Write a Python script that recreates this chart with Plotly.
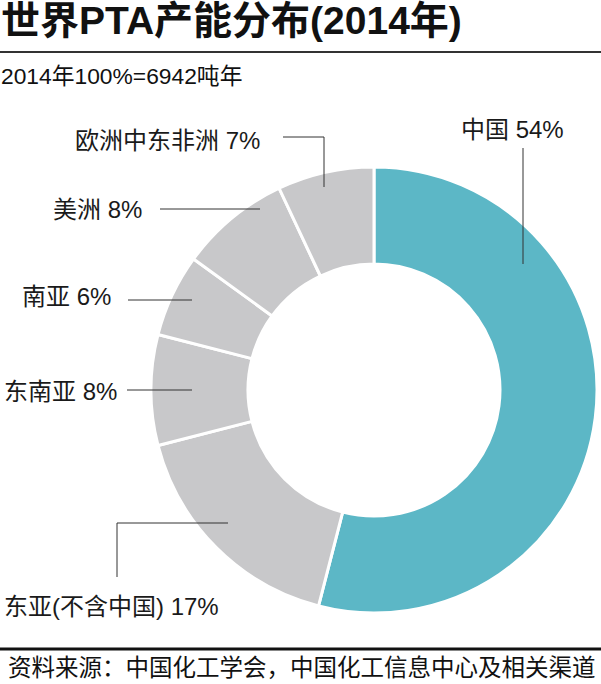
import plotly.graph_objects as go

# data
regions = ['中国', '东亚(不含中国)', '东南亚', '南亚', '美洲', '欧洲中东非洲']
shares = [54, 17, 8, 6, 8, 7]
slice_colors = ['#5cb7c6', '#c8c8ca', '#c8c8ca', '#c8c8ca', '#c8c8ca', '#c8c8ca']

title = '世界PTA产能分布(2014年)'
subtitle = '2014年100%=6942吨年'
source = '资料来源：中国化工学会，中国化工信息中心及相关渠道'

W, H = 601, 684
FONT = 'Liberation Sans, Noto Sans CJK SC, sans-serif'


def px(x):
    return x / W


def py(y):
    return 1 - y / H


# label placement (pixels): text anchor, leader line path
label_pos = {
    '中国': dict(x=459, y=130, path=[(523, 148), (523, 264)]),
    '东亚(不含中国)': dict(x=2, y=606, path=[(117, 577), (117, 523), (228, 523)]),
    '东南亚': dict(x=2, y=391, path=[(127, 390), (192, 390)]),
    '南亚': dict(x=20, y=296, path=[(128, 300), (192, 300)]),
    '美洲': dict(x=51, y=209, path=[(160, 209), (260, 209)]),
    '欧洲中东非洲': dict(x=73, y=140, path=[(283, 137), (324, 137), (324, 187)]),
}

# pie geometry: center (374, 390), radius 223
cx, cy, r = 374, 390, 223

fig = go.Figure()
fig.add_trace(go.Pie(
    labels=regions,
    values=shares,
    hole=0.565,
    sort=False,
    direction='clockwise',
    rotation=0,
    marker=dict(colors=slice_colors, line=dict(color='white', width=3)),
    textinfo='none',
    hoverinfo='label+percent',
    showlegend=False,
    domain=dict(x=[px(cx - r), px(cx + r)], y=[py(cy + r), py(cy - r)]),
))

annotations = [
    dict(x=px(-1), y=py(21), text='<b>' + title + '</b>', xanchor='left', yanchor='middle',
         font=dict(size=39, color='#111111', family=FONT)),
    dict(x=px(-1), y=py(76), text=subtitle, xanchor='left', yanchor='middle',
         font=dict(size=22.8, color='#111111', family=FONT)),
    dict(x=px(6), y=py(668), text=source, xanchor='left', yanchor='middle',
         font=dict(size=23.5, color='#111111', family=FONT)),
]

shapes = [
    dict(type='line', xref='paper', yref='paper', x0=0, x1=1, y0=py(52), y1=py(52),
         line=dict(color='#333333', width=2)),
    dict(type='line', xref='paper', yref='paper', x0=0, x1=1, y0=py(649), y1=py(649),
         line=dict(color='#111111', width=3)),
]

for name, v in zip(regions, shares):
    p = label_pos[name]
    annotations.append(dict(
        x=px(p['x']), y=py(p['y']), text=f'{name} {v}%', xanchor='left', yanchor='middle',
        font=dict(size=24, color='#1a1a1a', family=FONT)))
    pts = p['path']
    for (x0, y0), (x1, y1) in zip(pts[:-1], pts[1:]):
        shapes.append(dict(type='line', xref='paper', yref='paper',
                           x0=px(x0), y0=py(y0), x1=px(x1), y1=py(y1),
                           line=dict(color='#333333', width=1)))

for a in annotations:
    a.update(xref='paper', yref='paper', showarrow=False)

fig.update_layout(
    width=W, height=H,
    margin=dict(l=0, r=0, t=0, b=0),
    paper_bgcolor='white',
    plot_bgcolor='white',
    annotations=annotations,
    shapes=shapes,
)

# page body has a default 8px margin; drop it so the figure fills the window
fig.write_html('out.html', config={'displayModeBar': False},
               post_script="document.body.style.margin='0';")
